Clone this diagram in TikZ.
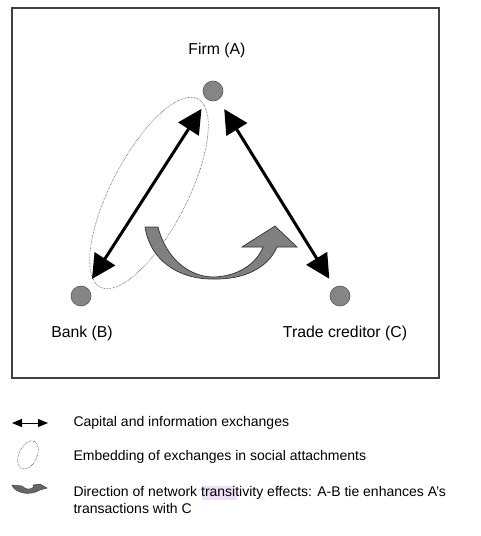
\documentclass[tikz,border=0pt]{standalone}
\usepackage{fontspec}
\setmainfont{Liberation Sans}
\usetikzlibrary{arrows.meta}
\definecolor{actorgray}{gray}{0.52}
\definecolor{flowgray}{gray}{0.5}
\definecolor{selpurple}{RGB}{238,224,246}

\begin{document}
\begin{tikzpicture}[x=1pt,y=-1pt,
    actor/.style={circle, fill=actorgray, draw=black!65, line width=0.6pt, minimum size=20pt, inner sep=0pt},
    bigtxt/.style={font=\fontsize{15.8}{18}\selectfont},
    keytxt/.style={font=\fontsize{14}{17}\selectfont, anchor=west},
    exchange/.style={line width=3pt, {Triangle[length=24pt,width=24pt]}-{Triangle[length=24pt,width=24pt]}, shorten <=11pt, shorten >=10pt},
    embed/.style={black!70, line width=0.6pt, dash pattern=on 0.6pt off 0.9pt}]
    \useasboundingbox (0,0) rectangle (481,536);
    % frame
    \draw[black!75, line width=1.3pt] (12,8) rectangle (439,378);
    % the three actors
    \node[actor] (A) at (213,91) {};
    \node[actor] (B) at (81,296) {};
    \node[actor] (C) at (340,296) {};
    \node[bigtxt] (lA) at (217,50) {Firm (A)};
    \node[bigtxt] (lB) at (82,333) {Bank (B)};
    \node[bigtxt] (lC) at (345,333) {Trade creditor (C)};
    % social embedding of the A-B tie
    \draw[embed, rotate around={62.6:(149,193)}] (149,193) ellipse (106 and 38);
    % exchanges
    \draw[exchange] (A) -- (B);
    \draw[exchange] (A) -- (C);
    % transitivity effect
    \draw[fill=flowgray, draw=black!80, line width=0.7pt]
        (145,227) -- (158,227) .. controls (166,258) and (188,276) .. (212,277)
        .. controls (238,277) and (257,263) .. (263,247) -- (242,247) -- (275,226)
        -- (297,247) -- (277,247) .. controls (268,268) and (244,280) .. (212,279)
        .. controls (178,279) and (150,260) .. (145,227) -- cycle;

    % key
    \draw[line width=1pt, {Triangle[length=10pt,width=8pt]}-{Triangle[length=10pt,width=8pt]}] (12,423) -- (48,423);
    \node[keytxt] (k1) at (70,423) {Capital and information exchanges};
    \draw[embed, rotate around={65:(28,455)}] (28,455) ellipse (15 and 9);
    \node[keytxt] (k2) at (70,457) {Embedding of exchanges in social attachments};
    \draw[fill=black!60, draw=black!75, line width=0.5pt]
        (12,485) -- (22,486) .. controls (26,490) and (30,490) .. (34,487) -- (33,485)
        -- (40,484) -- (47,488) -- (40,490) .. controls (35,493) and (28,494) .. (24,493)
        .. controls (18,492) and (13,489) .. (12,485) -- cycle;
    \fill[selpurple] (202,486) rectangle (237,500);
    \node[keytxt, align=left, anchor=north west] (k3) at (70,483) {Direction of network transitivity effects: A-B tie enhances A's\\transactions with C};
\end{tikzpicture}
\end{document}
